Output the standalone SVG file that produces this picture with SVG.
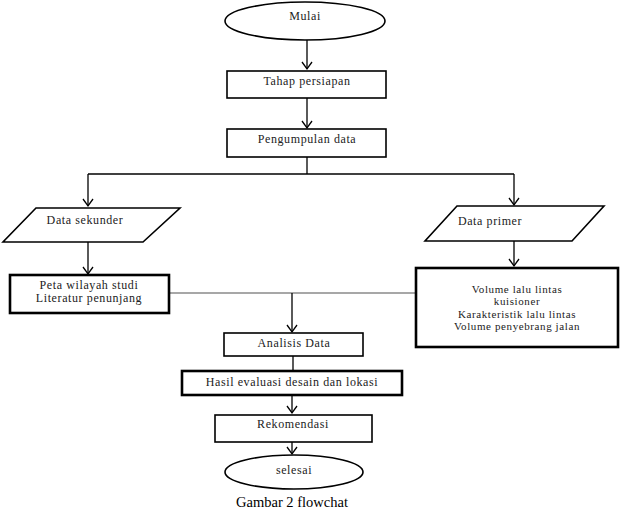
<svg xmlns="http://www.w3.org/2000/svg" width="621" height="511" viewBox="0 0 621 511">
<defs>
<marker id="arr" markerWidth="12" markerHeight="12" refX="9" refY="6" orient="auto" markerUnits="userSpaceOnUse" viewBox="0 0 12 12">
<polyline points="2,1 9,6 2,11" fill="none" stroke="#000" stroke-width="1.3"/>
</marker>
<style>
.box{fill:#fff;stroke:#000;stroke-width:1.6}
.thick{fill:#fff;stroke:#000;stroke-width:2.6}
.t{font-family:"Liberation Serif","Times New Roman",serif;font-size:12px;letter-spacing:0.6px;fill:#222;text-anchor:middle;dominant-baseline:central}
.s{font-size:11px;letter-spacing:0.6px}
.ln{fill:none;stroke:#000;stroke-width:1.3}
.grey{fill:none;stroke:#8a8a8a;stroke-width:1.3}
</style>
</defs>
<rect width="621" height="511" fill="#fff"/>
<g id="connectors">
<line class="ln" x1="307" y1="40" x2="307" y2="69" marker-end="url(#arr)"/>
<line class="ln" x1="307" y1="98" x2="307" y2="128" marker-end="url(#arr)"/>
<polyline class="ln" points="307,157 307,174"/>
<polyline class="ln" points="88,174 514,174"/>
<line class="ln" x1="88" y1="174" x2="88" y2="206" marker-end="url(#arr)"/>
<line class="ln" x1="514" y1="174" x2="514" y2="205" marker-end="url(#arr)"/>
<line class="ln" x1="88" y1="242" x2="88" y2="274" marker-end="url(#arr)"/>
<line class="ln" x1="514" y1="241" x2="514" y2="266" marker-end="url(#arr)"/>
<polyline class="grey" points="169,293 415,293"/>
<line class="ln" x1="292" y1="293" x2="292" y2="332" marker-end="url(#arr)"/>
<line class="ln" x1="293" y1="356" x2="293" y2="371"/>
<line class="ln" x1="292" y1="395" x2="292" y2="413" marker-end="url(#arr)"/>
<line class="ln" x1="292" y1="442" x2="292" y2="454" marker-end="url(#arr)"/>
</g>
<g id="mulai">
<ellipse class="box" cx="305" cy="21" rx="80" ry="19"/>
<text class="t" x="305" y="16">Mulai</text>
</g>
<g id="tahap">
<rect class="box" x="227" y="71" width="159" height="27"/>
<text class="t" x="307" y="81">Tahap persiapan</text>
</g>
<g id="pengumpulan">
<rect class="box" x="227" y="129" width="159" height="28"/>
<text class="t" x="307" y="139">Pengumpulan data</text>
</g>
<g id="sekunder">
<polygon class="box" points="36,208 180,208 143,242 3,242"/>
<text class="t" x="85" y="220">Data sekunder</text>
</g>
<g id="primer">
<polygon class="box" points="457,206 604,206 572,241 425,241"/>
<text class="t" x="490" y="221">Data primer</text>
</g>
<g id="peta">
<rect class="thick" x="10" y="275" width="159" height="38"/>
<text class="t" x="89" y="285">Peta wilayah studi</text>
<text class="t" x="89" y="298">Literatur penunjang</text>
</g>
<g id="volume">
<rect class="thick" x="416" y="268" width="202" height="79"/>
<text class="t s" x="517" y="288.5">Volume lalu lintas</text>
<text class="t s" x="517" y="301">kuisioner</text>
<text class="t s" x="517" y="313.5">Karakteristik lalu lintas</text>
<text class="t s" x="517" y="326">Volume penyebrang  jalan</text>
</g>
<g id="analisis">
<rect class="box" x="224" y="333" width="139" height="23"/>
<text class="t" x="294" y="343">Analisis Data</text>
</g>
<g id="hasil">
<rect class="thick" x="182" y="371" width="220" height="24"/>
<text class="t" x="292" y="382">Hasil evaluasi desain dan lokasi</text>
</g>
<g id="rekomendasi">
<rect class="box" x="215" y="415" width="157" height="27"/>
<text class="t" x="293" y="424">Rekomendasi</text>
</g>
<g id="selesai">
<ellipse class="box" cx="294" cy="472" rx="69" ry="17"/>
<text class="t" x="294" y="470">selesai</text>
</g>
<text x="292" y="502" font-family="'Liberation Serif','Times New Roman',serif" font-size="14.5" fill="#000" text-anchor="middle" dominant-baseline="central">Gambar 2 flowchat</text>
</svg>
